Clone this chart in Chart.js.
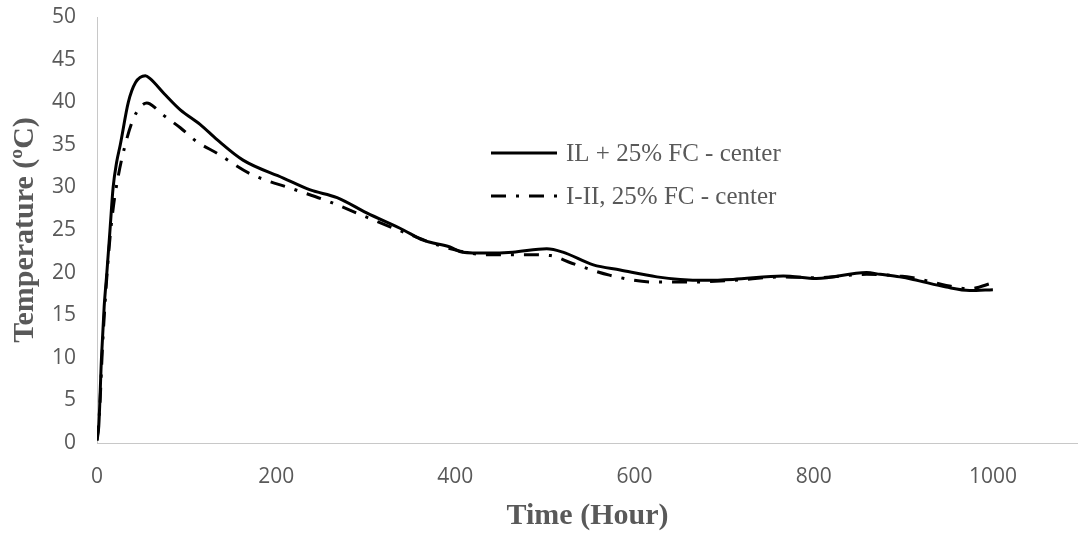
<!DOCTYPE html>
<html>
<head>
<meta charset="utf-8">
<script src="https://cdn.jsdelivr.net/npm/chart.js@4"></script>
<style>
  body { margin: 0; background: #fff; }
  canvas { display: block; }
</style>
</head>
<body>
<canvas id="tempChart" width="1078" height="535"></canvas>
<script>
// IL + 25% FC - center
const ilHours = [0, 2, 5, 8, 11, 14.5, 18, 22, 26, 35, 43, 54, 59, 75, 93, 115, 134, 163, 208, 238, 268, 301, 342, 364, 394, 408, 435, 464, 502, 520, 554, 584, 625, 651, 680, 710, 766, 803, 859, 874, 896, 911, 948, 974, 1000];
const ilTemps = [0.3, 2, 10, 16, 20, 25, 30, 33, 35, 40, 42.3, 43.1, 42.8, 41, 39.1, 37.4, 35.6, 33.2, 31.1, 29.7, 28.8, 27, 25, 23.8, 23, 22.4, 22.3, 22.4, 22.8, 22.4, 20.9, 20.3, 19.5, 19.2, 19.1, 19.2, 19.6, 19.3, 20, 19.8, 19.5, 19.2, 18.3, 17.9, 18.0];

// I-II, 25% FC - center
const iiHours = [0, 3, 6, 10, 14, 18, 23.5, 31, 40, 48, 55.6, 59, 74, 93, 111, 134, 171, 219, 260, 301, 346, 391, 435, 483, 506, 530, 572, 621, 665, 710, 766, 803, 859, 896, 911, 948, 974, 1000];
const iiTemps = [0.3, 4, 11, 18, 23.5, 27.5, 31.2, 34.8, 37.9, 39.4, 39.9, 39.8, 38.5, 37, 35.4, 34, 31.6, 29.8, 28.3, 26.5, 24.6, 22.9, 22.1, 22.1, 22.0, 21.1, 19.7, 18.9, 18.9, 19.1, 19.5, 19.4, 19.8, 19.6, 19.4, 18.5, 18.1, 18.8];

const seriesLabels = ['IL + 25% FC - center', 'I-II, 25% FC - center'];
const xTicks = [0, 200, 400, 600, 800, 1000];

const grey = '#595959';

const toPoints = (xs, ys) => xs.map((x, i) => ({ x: x, y: ys[i] }));

// legend drawn inside the plot, like the original
const insideLegend = {
    id: 'insideLegend',
    afterDatasetsDraw(chart) {
        const ctx = chart.ctx;
        const rows = [153, 196];
        ctx.save();
        chart.data.datasets.forEach((ds, i) => {
            const y = rows[i];
            ctx.strokeStyle = ds.borderColor;
            ctx.lineWidth = ds.borderWidth;
            ctx.setLineDash(ds.borderDash || []);
            ctx.beginPath();
            ctx.moveTo(491, y);
            ctx.lineTo(557, y);
            ctx.stroke();
            ctx.setLineDash([]);
            ctx.fillStyle = grey;
            ctx.font = '25px "Liberation Serif", "Times New Roman", serif';
            ctx.textBaseline = 'middle';
            ctx.textAlign = 'left';
            ctx.fillText(ds.label, 566, y + 1);
        });
        ctx.restore();
    }
};

new Chart(document.getElementById('tempChart').getContext('2d'), {
    type: 'line',
    data: {
        datasets: [{
            label: seriesLabels[0],
            data: toPoints(ilHours, ilTemps),
            borderColor: '#000',
            borderWidth: 3,
            pointRadius: 0,
            cubicInterpolationMode: 'monotone',
            fill: false
        }, {
            label: seriesLabels[1],
            data: toPoints(iiHours, iiTemps),
            borderColor: '#000',
            borderWidth: 3,
            borderDash: [15, 10, 3, 10],
            pointRadius: 0,
            cubicInterpolationMode: 'monotone',
            fill: false
        }]
    },
    options: {
        responsive: false,
        animation: false,
        layout: { padding: { top: 17, right: 0, left: 0, bottom: 0 } },
        plugins: {
            legend: { display: false },
            tooltip: { enabled: false }
        },
        scales: {
            x: {
                type: 'linear',
                min: 0,
                max: 1095,
                afterFit: s => {
                    s.height = 92;
                    s.paddingLeft = 0;
                    s.paddingRight = 0;
                },
                afterBuildTicks: s => { s.ticks = xTicks.map(v => ({ value: v })); },
                grid: { display: false, drawTicks: false },
                border: { display: true, color: '#c8c8c8', width: 1 },
                ticks: {
                    color: grey,
                    padding: 21,
                    maxRotation: 0,
                    callback: v => String(v),
                    font: { family: '"Open Sans", sans-serif', size: 21 }
                },
                title: {
                    display: true,
                    text: 'Time (Hour)',
                    color: grey,
                    padding: { top: 0, bottom: 1 },
                    font: { family: '"Liberation Serif", "Times New Roman", serif', size: 30, weight: 'bold' }
                }
            },
            y: {
                min: 0,
                max: 50,
                afterFit: s => {
                    s.width = 97;
                    s.paddingTop = 0;
                    s.paddingBottom = 0;
                },
                grid: { display: false, drawTicks: false },
                border: { display: true, color: '#c8c8c8', width: 1 },
                ticks: {
                    stepSize: 5,
                    color: grey,
                    padding: 21,
                    font: { family: '"Open Sans", sans-serif', size: 21 }
                },
                title: {
                    display: true,
                    text: 'Temperature (ºC)',
                    color: grey,
                    padding: { top: 7, bottom: 0 },
                    font: { family: '"Liberation Serif", "Times New Roman", serif', size: 30, weight: 'bold' }
                }
            }
        }
    },
    plugins: [insideLegend]
});
</script>
</body>
</html>
